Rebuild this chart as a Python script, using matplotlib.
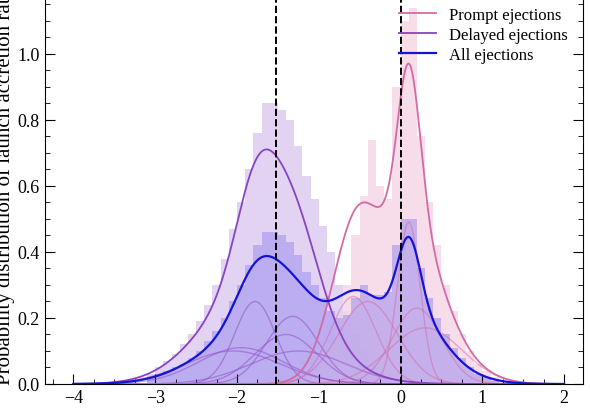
import numpy as np
import matplotlib
matplotlib.use("Agg")
import matplotlib.pyplot as plt
from matplotlib.ticker import MultipleLocator

plt.rcParams['font.family'] = ['Liberation Serif', 'DejaVu Serif']
plt.rcParams['mathtext.fontset'] = 'stix'

# Gaussian components (mean, amplitude, sigma)
delayed_mu = [-1.78, -1.32, -1.40, -1.95, -1.25, -2.05]
delayed_amp = [0.25, 0.205, 0.15, 0.11, 0.10, 0.10]
delayed_sig = [0.25, 0.32, 0.38, 0.52, 0.58, 0.58]
prompt_mu = [-0.58, -0.40, 0.10, 0.20, 0.30]
prompt_amp = [0.265, 0.25, 0.49, 0.23, 0.17]
prompt_sig = [0.28, 0.36, 0.14, 0.30, 0.45]
delayed_scale = 1.0
prompt_scale = 1.0
w_delayed = 0.545

# histograms (bin left edges, width 0.1)
delayed_start = -3.1
delayed_hist = [0.03,0.05,0.07,0.09,0.12,0.15,0.19,0.24,0.30,0.38,0.47,0.55,0.65,0.76,0.85,0.85,
                0.83,0.80,0.72,0.63,0.56,0.48,0.40,0.30,0.22,0.15,0.10,0.06,0.04,0.02,0.01]
prompt_start = -1.2
prompt_hist = [0.02,0.04,0.07,0.12,0.20,0.30,0.45,0.57,0.74,0.60,0.56,0.90,1.10,1.14,0.75,0.55,
               0.42,0.30,0.22,0.15,0.10,0.06,0.04,0.02,0.01]
all_start = -3.1
all_hist = [0.02,0.03,0.04,0.05,0.06,0.08,0.10,0.13,0.16,0.20,0.25,0.30,0.36,0.42,0.46,0.46,0.45,
            0.43,0.39,0.34,0.30,0.26,0.22,0.20,0.21,0.26,0.30,0.27,0.27,0.28,0.42,0.50,0.50,0.35,
            0.26,0.20,0.15,0.11,0.08,0.05,0.03,0.02,0.01]
vlines = [-1.52, 0.0]

c_prompt = '#d36aa6'
c_delayed = '#8844c0'
c_all = '#1414d6'

fig = plt.figure(figsize=(5.9, 4.1), dpi=100)
ax = fig.add_axes([0.076, 0.061, 0.912, 0.966])

def edges(start, n):
    return start + 0.1 * np.arange(n)

ax.bar(edges(delayed_start, len(delayed_hist)), delayed_hist, width=0.1, align='edge', color='#e3d3f2', lw=0)
ax.bar(edges(prompt_start, len(prompt_hist)), prompt_hist, width=0.1, align='edge', color='#f6d6e6', alpha=0.85, lw=0)
ax.bar(edges(all_start, len(all_hist)), all_hist, width=0.1, align='edge', color='#9c8cf0', alpha=0.55, lw=0)

x = np.linspace(-4, 2, 800)
def g(m, a, s):
    return a * np.exp(-0.5 * ((x - m) / s) ** 2)

dcomp = [g(m, a, s) for m, a, s in zip(delayed_mu, delayed_amp, delayed_sig)]
pcomp = [g(m, a, s) for m, a, s in zip(prompt_mu, prompt_amp, prompt_sig)]
for c in dcomp:
    ax.plot(x, c, color=c_delayed, lw=1.0, alpha=0.45)
for c in pcomp:
    ax.plot(x, c, color=c_prompt, lw=1.0, alpha=0.5)
dtot = delayed_scale * np.sum(dcomp, axis=0)
ptot = prompt_scale * np.sum(pcomp, axis=0)
ax.plot(x, ptot, color=c_prompt, lw=1.3, label='Prompt ejections')
ax.plot(x, dtot, color=c_delayed, lw=1.3, label='Delayed ejections')
ax.plot(x, w_delayed * dtot + (1 - w_delayed) * ptot, color=c_all, lw=1.6, label='All ejections')

for v in vlines:
    ax.axvline(v, color='k', ls='--', lw=1.4)

ax.set_xlim(-4.35, 2.23)
ax.set_ylim(0, 1.2)
ax.xaxis.set_major_locator(MultipleLocator(1))
ax.xaxis.set_minor_locator(MultipleLocator(0.25))
ax.yaxis.set_major_locator(MultipleLocator(0.2))
ax.yaxis.set_minor_locator(MultipleLocator(0.05))
ax.tick_params(which='both', direction='in', top=True, right=True, labelsize=13)
ax.tick_params(which='major', length=7)
ax.tick_params(which='minor', length=3.5)
ax.set_xlabel('Accretion rate at launch (Eddington units, $\\log_{10}$)', fontsize=15, labelpad=2)
ax.set_ylabel('Probability distribution of launch accretion rate', fontsize=15, labelpad=2)
ax.legend(loc='upper right', frameon=False, fontsize=12, bbox_to_anchor=(1.0, 0.99),
          handlelength=2.2, labelspacing=0.25)
fig.savefig('out.png', dpi=100)
